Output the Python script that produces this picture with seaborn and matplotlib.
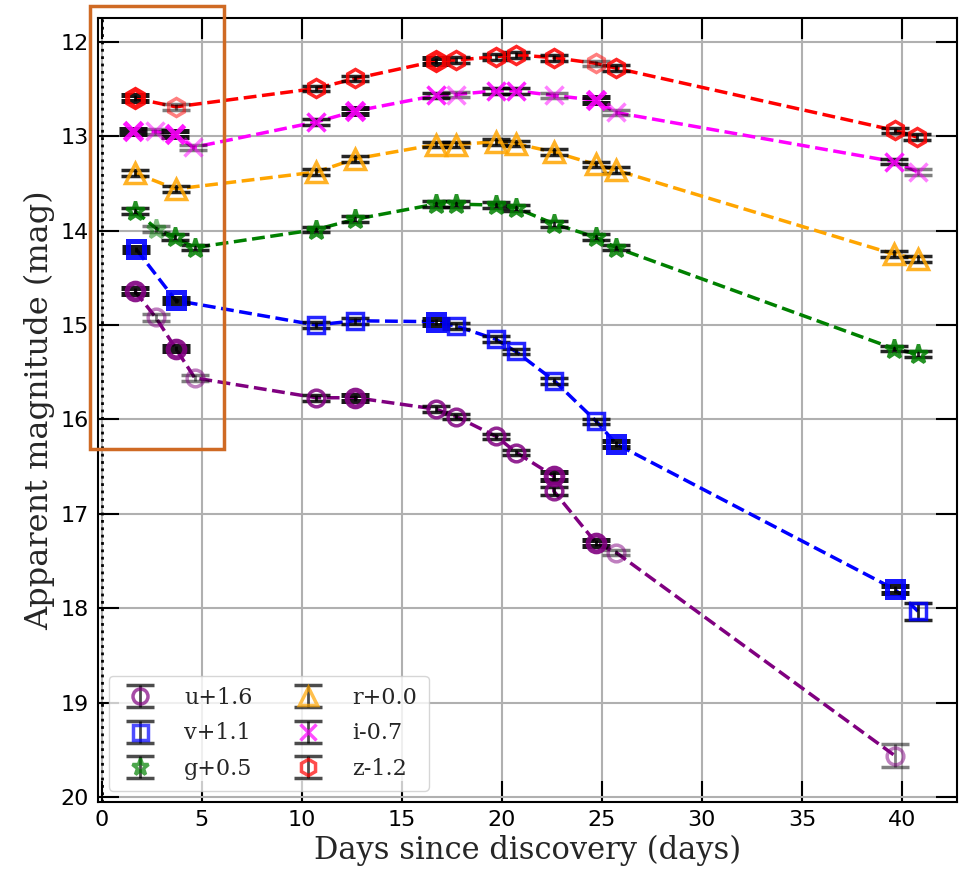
import numpy as np
import pandas as pd
import matplotlib
matplotlib.use("Agg")
import matplotlib.pyplot as plt
import seaborn as sns
from matplotlib.patches import Rectangle

# ---- photometry (offset magnitudes) ----
bands = ["u", "v", "g", "r", "i", "z"]
band_labels = ["u+1.6", "v+1.1", "g+0.5", "r+0.0", "i-0.7", "z-1.2"]

u_days = [1.65, 2.70, 3.70, 4.65, 10.73, 12.68, 16.69, 17.72, 19.72, 20.72, 22.60, 22.60, 24.72, 25.72, 39.65]
u_mag = [14.64, 14.92, 15.25, 15.56, 15.77, 15.77, 15.89, 15.97, 16.18, 16.35, 16.60, 16.76, 17.31, 17.41, 19.56]
u_err = [0.03, 0.04, 0.03, 0.03, 0.03, 0.03, 0.03, 0.03, 0.03, 0.03, 0.04, 0.04, 0.03, 0.03, 0.12]
u_src = ["C", "B", "C", "B", "A", "C", "A", "A", "A", "A", "C", "A", "C", "B", "B"]

v_days = [1.73, 3.70, 10.70, 12.68, 16.69, 17.69, 19.69, 20.69, 22.62, 24.72, 25.72, 39.65, 40.80]
v_mag = [14.20, 14.74, 15.00, 14.955, 14.965, 15.01, 15.15, 15.28, 15.59, 16.02, 16.26, 17.80, 18.03]
v_err = [0.03, 0.03, 0.03, 0.03, 0.03, 0.03, 0.03, 0.03, 0.03, 0.03, 0.03, 0.035, 0.09]
v_src = ["C", "C", "A", "A", "C", "A", "A", "A", "A", "A", "C", "C", "A"]

g_days = [1.65, 2.73, 3.65, 4.65, 10.70, 12.68, 16.69, 17.69, 19.69, 20.69, 22.62, 24.69, 25.69, 39.60, 40.80]
g_mag = [13.79, 13.98, 14.07, 14.18, 13.99, 13.88, 13.72, 13.72, 13.73, 13.76, 13.93, 14.07, 14.18, 15.25, 15.31]
g_err = [0.03] * 15
g_src = ["A", "B", "A", "A", "A", "A", "A", "A", "A", "A", "A", "A", "A", "A", "A"]

r_days = [1.65, 3.70, 10.73, 12.68, 16.69, 17.69, 19.69, 20.69, 22.62, 24.69, 25.69, 39.60, 40.80]
r_mag = [13.39, 13.56, 13.38, 13.24, 13.09, 13.09, 13.06, 13.08, 13.17, 13.30, 13.36, 14.25, 14.30]
r_err = [0.03] * 13
r_src = ["A"] * 13

i_days = [1.57, 2.65, 3.65, 4.57, 10.73, 12.68, 16.69, 17.69, 19.69, 20.69, 22.62, 24.69, 25.69, 39.60, 40.80]
i_mag = [12.95, 12.95, 12.98, 13.12, 12.85, 12.735, 12.57, 12.56, 12.52, 12.52, 12.57, 12.62, 12.75, 13.27, 13.38]
i_err = [0.03] * 15
i_src = ["C", "B", "C", "B", "A", "C", "A", "B", "A", "A", "B", "C", "B", "A", "B"]

z_days = [1.65, 3.70, 10.73, 12.68, 16.69, 17.69, 19.69, 20.69, 22.62, 24.69, 25.69, 39.65, 40.75]
z_mag = [12.60, 12.69, 12.495, 12.39, 12.206, 12.195, 12.16, 12.14, 12.17, 12.23, 12.28, 12.94, 13.01]
z_err = [0.03] * 13
z_src = ["C", "B", "A", "A", "C", "A", "A", "A", "A", "B", "A", "A", "A"]

band_data = {
    "u": (u_days, u_mag, u_err, u_src),
    "v": (v_days, v_mag, v_err, v_src),
    "g": (g_days, g_mag, g_err, g_src),
    "r": (r_days, r_mag, r_err, r_src),
    "i": (i_days, i_mag, i_err, i_src),
    "z": (z_days, z_mag, z_err, z_src),
}

colors = {"u": "purple", "v": "blue", "g": "green", "r": "orange", "i": "magenta", "z": "red"}
markers = {"u": "o", "v": "s", "g": "*", "r": "^", "i": "x", "z": "h"}
msizes = {"u": 12, "v": 12, "g": 14, "r": 14, "i": 13, "z": 13}

# source -> drawing style (alpha, marker edge width)
src_style = {"A": (0.85, 2.5), "B": (0.5, 2.5), "C": (0.9, 3.6)}

rows = []
for b in bands:
    d, m, e, s = band_data[b]
    for k in range(len(d)):
        rows.append({"band": b, "day": d[k], "mag": m[k], "err": e[k], "src": s[k]})
df = pd.DataFrame(rows)

sns.set_style("ticks")
plt.rcParams["font.family"] = ["DejaVu Sans"]

fig = plt.figure(figsize=(9.62, 8.71), dpi=100)
ax = fig.add_axes([0.1014, 0.0792, 0.8934, 0.9001])

# dashed connecting lines per band
sns.lineplot(data=df, x="day", y="mag", hue="band", palette=colors,
             estimator=None, sort=False, units="band", linestyle="--",
             linewidth=2.5, legend=False, ax=ax, zorder=2)

# points with error bars
for b in bands:
    sub = df[df["band"] == b]
    for src, (alpha, mew) in src_style.items():
        s = sub[sub["src"] == src]
        if s.empty:
            continue
        ax.errorbar(s["day"], s["mag"], yerr=s["err"], fmt=markers[b], ms=msizes[b],
                    mfc="none", mec=colors[b], mew=mew, ecolor="black",
                    elinewidth=2, capsize=10, capthick=3, alpha=alpha, zorder=3)

# legend proxies
handles = []
for b, lab in zip(bands, band_labels):
    h = ax.errorbar([np.nan], [np.nan], yerr=[np.nan], fmt=markers[b], ms=msizes[b] * 0.9,
                    mfc="none", mec=colors[b], mew=2.5, ecolor="black", elinewidth=2,
                    capsize=10, capthick=3, alpha=0.7, label=lab)
    handles.append(h)

# discovery epoch
ax.axvline(0, color="black", linestyle=":", linewidth=2, zorder=2)

ax.set_xlim(-0.21, 42.75)
ax.set_ylim(20.05, 11.75)
ax.set_xticks(np.arange(0, 41, 5))
ax.set_yticks(np.arange(12, 21, 1))
ax.grid(True, color="#b0b0b0", linewidth=1.5, zorder=0)
ax.set_axisbelow(True)
ax.tick_params(direction="in", length=15, width=1.5, top=True, right=True,
               labelsize=16, pad=6, colors="black")
for sp in ax.spines.values():
    sp.set_linewidth(1.5)
    sp.set_color("black")

ax.set_xlabel("Days since discovery (days)", fontsize=22, family="DejaVu Serif", labelpad=3)
ax.set_ylabel("Apparent magnitude (mag)", fontsize=23, family="DejaVu Serif", labelpad=4)

leg = ax.legend(handles=handles, loc="lower left", ncol=2,
                prop={"family": "DejaVu Serif", "size": 16},
                handlelength=1.8, handletextpad=1.1, columnspacing=1.6,
                labelspacing=0.6, framealpha=0.8, borderpad=0.5)

# early-time highlight
ax.add_patch(Rectangle((-0.59, 11.62), 6.70, 4.69, fill=False, edgecolor="#cf6a24",
                       linewidth=2.5, clip_on=False, zorder=5))

fig.savefig("out.png", dpi=100)
